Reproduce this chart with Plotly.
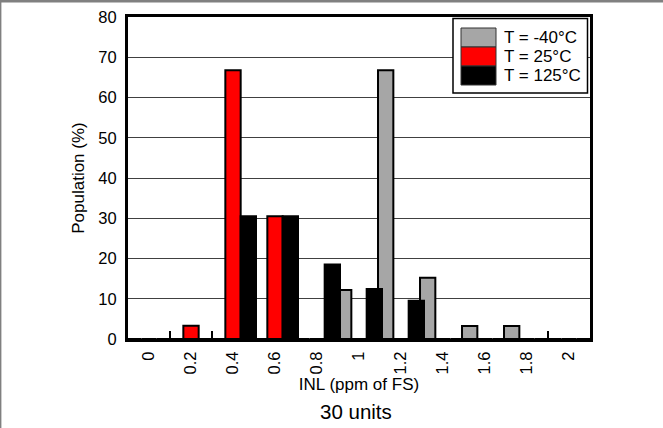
import plotly.graph_objects as go

# ---- data ----
categories = ["0", "0.2", "0.4", "0.6", "0.8", "1", "1.2", "1.4", "1.6", "1.8", "2"]
pop_m40 = [0, 0, 0, 0, 0, 12.2, 66.8, 15.2, 3.2, 3.2, 0]      # T = -40°C
pop_25 = [0, 3.3, 66.8, 30.5, 0, 0, 0, 0, 0, 0, 0]            # T = 25°C
pop_125 = [0, 0, 30.5, 30.5, 18.5, 12.4, 9.5, 0, 0, 0, 0]     # T = 125°C
series_names = ["T = -40°C", "T = 25°C", "T = 125°C"]
series_colors = ["#a6a6a6", "#ff0000", "#000000"]
y_ticks = [0, 10, 20, 30, 40, 50, 60, 70, 80]

W, H = 663, 428
L, R, T, B = 128, 590, 17, 339
FONT = "Liberation Sans, Arial, sans-serif"

bw = 0.365  # bar width in category units
offsets = [-1.5 * bw, -0.5 * bw, 0.5 * bw]

fig = go.Figure()
for name, vals, col, off in zip(series_names, [pop_m40, pop_25, pop_125], series_colors, offsets):
    fig.add_trace(go.Bar(
        x=categories, y=vals, name=name, width=bw, offset=off,
        marker=dict(color=col, line=dict(color="#000000", width=2)),
        showlegend=False, hoverinfo="skip",
    ))


def px(xp):
    return (xp - L) / (R - L)


def py(yp):
    return (B - yp) / (B - T)


shapes = []
annotations = []
# legend box
shapes.append(dict(type="rect", xref="paper", yref="paper",
                   x0=px(453), x1=px(587.5), y0=py(93), y1=py(18.5),
                   line=dict(color="#000000", width=1.5), fillcolor="#ffffff", layer="above"))
rows = [(28, 47), (47, 66), (66, 85)]
for (y0, y1), name, col in zip(rows, series_names, series_colors):
    shapes.append(dict(type="rect", xref="paper", yref="paper",
                       x0=px(461), x1=px(496), y0=py(y1), y1=py(y0),
                       line=dict(color="#333333", width=1), fillcolor=col, layer="above"))
    annotations.append(dict(text=name, xref="paper", yref="paper",
                            x=px(502), y=py((y0 + y1) / 2), xanchor="left", yanchor="middle",
                            showarrow=False, font=dict(family=FONT, size=17, color="#000000")))
# outer frame (top and left, gray)
shapes.append(dict(type="line", xref="paper", yref="paper",
                   x0=px(0), x1=px(W), y0=py(1.2), y1=py(1.2),
                   line=dict(color="#808080", width=2.4), layer="above"))
shapes.append(dict(type="line", xref="paper", yref="paper",
                   x0=px(0.7), x1=px(0.7), y0=py(0), y1=py(H),
                   line=dict(color="#808080", width=1.4), layer="above"))
# caption
annotations.append(dict(text="30 units", xref="paper", yref="paper",
                        x=px(355.5), y=py(411), xanchor="center", yanchor="middle",
                        showarrow=False, font=dict(family=FONT, size=20.5, color="#000000")))

fig.update_layout(
    width=W, height=H,
    margin=dict(l=L, r=W - R, t=T, b=H - B, autoexpand=False),
    paper_bgcolor="#ffffff", plot_bgcolor="#ffffff",
    barmode="overlay",
    font=dict(family=FONT, size=16.5, color="#000000"),
    shapes=shapes, annotations=annotations,
    showlegend=False,
)
fig.update_xaxes(
    type="category", categoryorder="array", categoryarray=categories,
    range=[-0.5, len(categories) - 0.5],
    tickangle=-90, ticks="inside", tickson="boundaries", ticklen=8, tickwidth=1.5,
    tickcolor="#000000", ticklabelstandoff=3,
    showline=True, linecolor="#000000", linewidth=3, mirror=True,
    showgrid=False, layer="below traces",
    title=dict(text="INL (ppm of FS)", font=dict(family=FONT, size=17), standoff=4),
    automargin=False,
)
fig.update_yaxes(
    range=[0, 80], tickvals=y_ticks, ticktext=[str(v) for v in y_ticks],
    ticks="", ticklabelstandoff=5,
    showline=True, linecolor="#000000", linewidth=3, mirror=True,
    showgrid=True, gridcolor="#404040", gridwidth=1, zeroline=False,
    title=dict(text="Population (%)", font=dict(family=FONT, size=17), standoff=10),
    automargin=False,
)

fig.write_html(
    "out.html",
    config={"displayModeBar": False},
    post_script="document.body.style.margin='0';document.body.style.overflow='hidden';",
)
